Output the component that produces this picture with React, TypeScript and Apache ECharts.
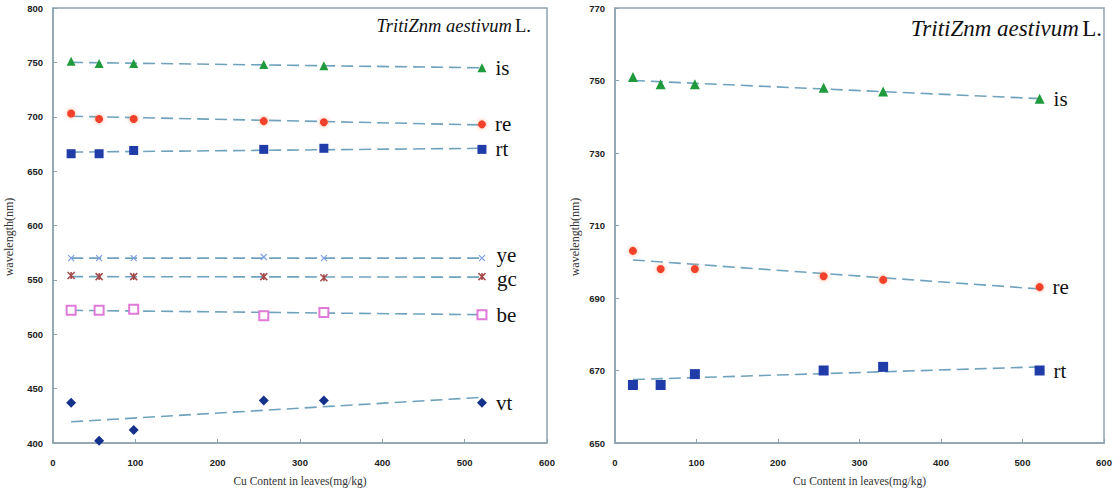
import React, { useEffect, useRef } from "react";
import * as echarts from "echarts";

// Cu content (mg/kg) of the six samples
const cuContent = [22, 56, 98, 256, 329, 521];

// Wavelength positions (nm)
const isVals = [751, 749, 749, 748, 747, 745];
const reVals = [703, 698, 698, 696, 695, 693];
const rtVals = [666, 666, 669, 670, 671, 670];
const yeVals = [570, 570, 570, 571, 570, 570];
const gcVals = [554, 553, 553, 553, 552, 553];
const beVals = [522, 522, 523, 517, 520, 518];
const vtVals = [437, 402, 412, 439, 439, 437];

// Trend line end values (at first and last Cu content)
const isTrend = [750, 745];
const reTrend = [700.5, 692.5];
const rtTrend = [667.5, 671];
const yeTrend = [570, 570];
const gcTrend = [553, 552.5];
const beTrend = [522, 518];
const vtTrend = [419.5, 442];

const leftYTicks = { min: 400, max: 800, interval: 50 };
const rightYTicks = { min: 650, max: 770, interval: 20 };
const xTicks = { min: 0, max: 600, interval: 100 };

const AXIS_COLOR = "#8ea3b0";
const TREND_COLOR = "#6fa2bc";

function scatter(
  name: string,
  vals: number[],
  idx: number,
  symbol: string,
  size: number,
  itemStyle: any,
  labelShift = 0
) {
  return {
    type: "scatter",
    name,
    xAxisIndex: idx,
    yAxisIndex: idx,
    symbol,
    symbolSize: size,
    itemStyle: { opacity: 1, ...itemStyle },
    z: 5,
    data: vals.map((v, i) =>
      i === vals.length - 1
        ? {
            value: [cuContent[i], v],
            label: {
              show: true,
              position: "right",
              distance: 9,
              offset: [0, labelShift],
              formatter: name,
              fontFamily: "Liberation Serif",
              fontSize: 21,
              lineHeight: 17,
              color: "#111",
            },
          }
        : [cuContent[i], v]
    ),
  };
}

function trend(name: string, ends: number[], idx: number) {
  return {
    type: "line",
    name: name + "-trend",
    xAxisIndex: idx,
    yAxisIndex: idx,
    symbol: "none",
    z: 2,
    lineStyle: { color: TREND_COLOR, width: 1.6, type: [12, 6] },
    data: [
      [cuContent[0], ends[0]],
      [cuContent[cuContent.length - 1], ends[1]],
    ],
  };
}

const axisLabel = {
  fontFamily: "Liberation Sans",
  fontWeight: "bold",
  fontSize: 9.5,
  color: "#222",
};

function xAxis(idx: number) {
  return {
    type: "value",
    gridIndex: idx,
    ...xTicks,
    name: "Cu Content in leaves(mg/kg)",
    nameLocation: "middle",
    nameGap: 32,
    nameTextStyle: { fontFamily: "Liberation Serif", fontSize: 11.5, color: "#333" },
    axisLine: { show: true, lineStyle: { color: AXIS_COLOR, width: 1.5 } },
    axisTick: { show: true, inside: true, length: 4, lineStyle: { color: AXIS_COLOR } },
    axisLabel: { ...axisLabel, margin: 14 },
    splitLine: { show: false },
  };
}

function yAxis(idx: number, ticks: any) {
  return {
    type: "value",
    gridIndex: idx,
    ...ticks,
    axisLine: { show: true, lineStyle: { color: AXIS_COLOR, width: 1.5 } },
    axisTick: { show: true, inside: true, length: 4, lineStyle: { color: AXIS_COLOR } },
    axisLabel: { ...axisLabel, margin: 10 },
    splitLine: { show: false },
  };
}

function titleText(x: number, y: number, size: number) {
  return {
    type: "text",
    x,
    y,
    style: {
      text: "{i|TritiZnm aestivum} {n|L.}",
      align: "right",
      verticalAlign: "middle",
      rich: {
        i: { fontFamily: "Liberation Serif", fontStyle: "italic", fontSize: size, fill: "#111" },
        n: { fontFamily: "Liberation Serif", fontSize: size, fill: "#111" },
      },
    },
  };
}

function yName(x: number, y: number) {
  return {
    type: "text",
    x,
    y,
    rotation: Math.PI / 2,
    style: {
      text: "wavelength(nm)",
      align: "center",
      verticalAlign: "middle",
      fontFamily: "Liberation Serif",
      fontSize: 12,
      fill: "#333",
    },
  };
}

export default function App() {
  const ref = useRef<HTMLDivElement>(null);
  useEffect(() => {
    if (!ref.current) return;
    const chart = echarts.init(ref.current, null, { renderer: "svg" });
    const series: any[] = [];
    const addSet = (idx: number, withAll: boolean) => {
      series.push(trend("is", isTrend, idx));
      series.push(trend("re", reTrend, idx));
      series.push(trend("rt", rtTrend, idx));
      series.push(scatter("is", isVals, idx, "triangle", idx === 0 ? 9 : 10, { color: "#1f9a3c" }));
      series.push(
        scatter("re", reVals, idx, "circle", 8, {
          color: "#f2402c",
          shadowBlur: 4,
          shadowColor: "rgba(255,150,110,0.8)",
        })
      );
      series.push(scatter("rt", rtVals, idx, "rect", idx === 0 ? 9 : 10, { color: "#1f3ca8" }));
      if (withAll) {
        series.push(trend("ye", yeTrend, idx));
        series.push(trend("gc", gcTrend, idx));
        series.push(trend("be", beTrend, idx));
        series.push(trend("vt", vtTrend, idx));
        series.push(
          scatter(
            "ye",
            yeVals,
            idx,
            "path://M0,0L10,10M10,0L0,10",
            6,
            { color: "none", borderColor: "#7d9fe0", borderWidth: 1.2 },
            -3
          )
        );
        series.push(
          scatter(
            "gc",
            gcVals,
            idx,
            "path://M0,0L10,10M10,0L0,10M5,0L5,10",
            7,
            { color: "none", borderColor: "#a24a4a", borderWidth: 1.5 },
            2
          )
        );
        series.push(
          scatter("be", beVals, idx, "emptyRect", 9, { color: "#e07ad8", borderWidth: 1.2 })
        );
        series.push(scatter("vt", vtVals, idx, "diamond", 10, { color: "#14328c" }));
      }
    };
    addSet(0, true);
    addSet(1, false);

    chart.setOption({
      animation: false,
      backgroundColor: "#ffffff",
      grid: [
        { left: 53, top: 8, width: 494, height: 435, show: true, borderColor: AXIS_COLOR, borderWidth: 1.5 },
        { left: 615, top: 8, width: 489, height: 435, show: true, borderColor: AXIS_COLOR, borderWidth: 1.5 },
      ],
      xAxis: [xAxis(0), xAxis(1)],
      yAxis: [yAxis(0, leftYTicks), yAxis(1, rightYTicks)],
      series,
      graphic: [titleText(531, 26, 18.5), titleText(1102, 28, 23), yName(9, 237), yName(575, 237)],
    });
    return () => chart.dispose();
  }, []);
  return (
    <div
      ref={ref}
      style={{ position: "fixed", left: 0, top: 0, width: 1119, height: 492, background: "#fff" }}
    />
  );
}
